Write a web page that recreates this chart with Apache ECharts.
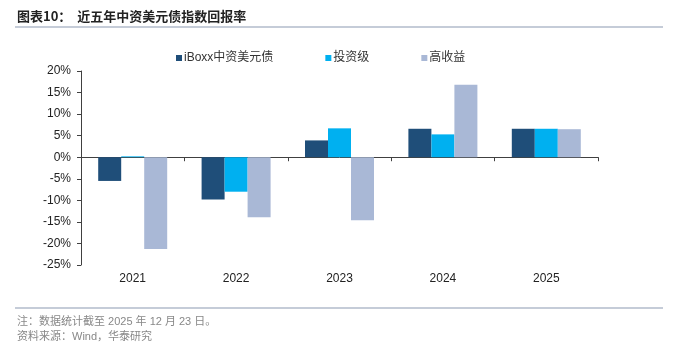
<!DOCTYPE html>
<html>
<head>
<meta charset="utf-8">
<script src="https://cdn.jsdelivr.net/npm/echarts@6/dist/echarts.min.js"></script>
<style>
	html, body { margin: 0; padding: 0; background: #ffffff; }
	#bond_chart { width: 677px; height: 350px; }
</style>
</head>
<body>
<div id="bond_chart"></div>
<script>
	// years and returns (%)
	var years = ['2021', '2022', '2023', '2024', '2025'];
	var iboxx_all = [-5.5, -9.8, 3.9, 6.6, 6.6];
	var inv_grade = [0.2, -8.0, 6.7, 5.3, 6.6];
	var high_yield = [-21.3, -13.9, -14.6, 16.8, 6.5];
	var series_names = ['iBoxx中资美元债', '投资级', '高收益'];

	var font_cn = '"Liberation Sans", Arial, "Noto Sans CJK SC", sans-serif';
	var chart = echarts.init(document.getElementById('bond_chart'));

	var option = {
		backgroundColor: '#ffffff',
		animation: false,
		color: ['#1F4E79', '#00B0F0', '#A9B8D6'],
		grid: { left: 81, right: 79, top: 71, bottom: 85 },
		legend: {
			top: 47,
			left: 171,
			itemWidth: 6,
			itemHeight: 6,
			itemGap: 52,
			icon: 'rect',
			textStyle: { fontSize: 12, color: '#333', fontFamily: font_cn, padding: [0, 0, 0, -3] },
			data: series_names
		},
		xAxis: [
			{
				type: 'category',
				data: years,
				axisLine: { onZero: true, lineStyle: { color: '#404040', width: 1 } },
				axisTick: { show: true, inside: false, length: 4, lineStyle: { color: '#404040' } },
				axisLabel: { show: false }
			},
			{
				type: 'category',
				data: years,
				position: 'bottom',
				axisLine: { show: false },
				axisTick: { show: false },
				axisLabel: { show: true, fontSize: 12, color: '#222', fontFamily: font_cn, margin: 8 }
			}
		],
		yAxis: {
			type: 'value',
			min: -25,
			max: 20,
			interval: 5,
			axisLine: { show: true, lineStyle: { color: '#404040' } },
			axisTick: { show: true, length: 4, lineStyle: { color: '#404040' } },
			splitLine: { show: false },
			axisLabel: {
				fontSize: 12,
				color: '#222',
				fontFamily: font_cn,
				margin: 10,
				formatter: function (v) { return v + '%'; }
			}
		},
		series: [
			{ name: series_names[0], type: 'bar', xAxisIndex: 0, barWidth: 23, barGap: '0%', data: iboxx_all },
			{ name: series_names[1], type: 'bar', xAxisIndex: 0, barWidth: 23, barGap: '0%', data: inv_grade },
			{ name: series_names[2], type: 'bar', xAxisIndex: 0, barWidth: 23, barGap: '0%', data: high_yield }
		],
		graphic: [
			{
				type: 'text', left: 17, top: 10,
				style: { text: '图表10：  近五年中资美元债指数回报率', font: 'bold 13px "Noto Sans CJK SC", sans-serif', fill: '#222' }
			},
			{
				type: 'rect', left: 15, top: 26,
				shape: { width: 648, height: 2 },
				style: { fill: '#C5CCD8' }
			},
			{
				type: 'rect', left: 15, top: 307,
				shape: { width: 648, height: 2 },
				style: { fill: '#C5CCD8' }
			},
			{
				type: 'text', left: 17, top: 316,
				style: { text: '注：数据统计截至 2025 年 12 月 23 日。', font: '11px "Liberation Sans", "Noto Sans CJK SC", sans-serif', fill: '#888' }
			},
			{
				type: 'text', left: 17, top: 331,
				style: { text: '资料来源：Wind，华泰研究', font: '11px "Liberation Sans", "Noto Sans CJK SC", sans-serif', fill: '#888' }
			}
		]
	};

	chart.setOption(option);
</script>
</body>
</html>
